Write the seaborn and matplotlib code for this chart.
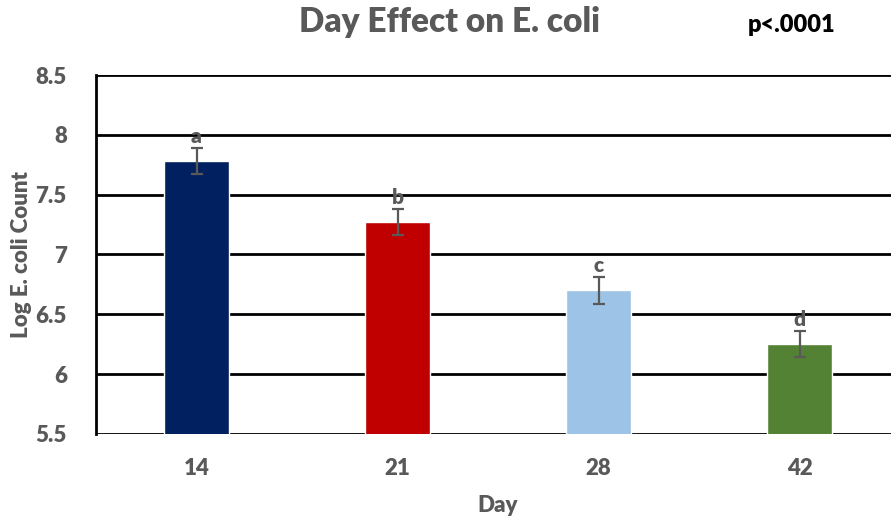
import numpy as np
import pandas as pd
import matplotlib
matplotlib.use("Agg")
import matplotlib.pyplot as plt
import seaborn as sns

# data
days = ["14", "21", "28", "42"]
log_counts = [7.78, 7.27, 6.70, 6.25]
errors = [0.11, 0.11, 0.11, 0.11]
letters = ["a", "b", "c", "d"]
bar_colors = ["#002060", "#C00000", "#9DC3E6", "#548235"]
y_ticks = [5.5, 6, 6.5, 7, 7.5, 8, 8.5]
y_tick_labels = ["5.5", "6", "6.5", "7", "7.5", "8", "8.5"]

df = pd.DataFrame({"Day": days, "count": log_counts})

sns.set_style("white")
plt.rcParams['font.family'] = ['Lato', 'DejaVu Sans']
grey = "#595959"
wt = "heavy"

fig = plt.figure(figsize=(8.91, 5.2), dpi=100)
ax = fig.add_axes([96/891, 1 - 434/520, 804/891, 359/520])

sns.barplot(data=df, x="Day", y="count", hue="Day", palette=bar_colors,
            width=0.32, errorbar=None, legend=False, ax=ax, zorder=3,
            saturation=1)
ax.errorbar(np.arange(len(days)), log_counts, yerr=errors, fmt="none",
            ecolor=grey, elinewidth=1.6, capsize=4.5, capthick=1.6, zorder=4)

# significance letters just above the caps
for i, (v, e, t) in enumerate(zip(log_counts, errors, letters)):
    ax.text(i, v + e + 0.015, t, ha="center", va="bottom", fontsize=15,
            fontweight=wt, color=grey, zorder=5)

ax.set_xlim(-0.5, 3.5)
ax.set_ylim(5.5, 8.5)
ax.set_yticks(y_ticks)
ax.set_yticklabels(y_tick_labels, fontweight=wt)
ax.set_xticks(range(len(days)))
ax.set_xticklabels(days, fontweight=wt)
ax.yaxis.grid(True, color="black", linewidth=2, zorder=0)
ax.set_axisbelow(True)
for s in ["top", "right", "bottom"]:
    ax.spines[s].set_visible(False)
ax.spines["left"].set_color("black")
ax.spines["left"].set_linewidth(2)
ax.tick_params(axis="both", length=0, labelsize=16, labelcolor=grey)
ax.tick_params(axis="y", pad=21)
ax.tick_params(axis="x", pad=17)

ax.set_xlabel("Day", fontsize=16, fontweight=wt, color=grey)
ax.set_ylabel("Log E. coli Count", fontsize=16, fontweight=wt, color=grey)
ax.xaxis.set_label_coords(0.5, -(505 - 434) / 359)
ax.yaxis.set_label_coords((22 - 96) / 804, 0.5)
ax.xaxis.label.set_va("center")
ax.yaxis.label.set_va("center")

fig.text(450/891, 1 - 22/520, "Day Effect on E. coli", ha="center", va="center",
         fontsize=24, fontweight=wt, color=grey)
fig.text(792/891, 1 - 25/520, "p<.0001", ha="center", va="center",
         fontsize=17, fontweight=wt, color="black")

fig.savefig("out.png", dpi=100)
